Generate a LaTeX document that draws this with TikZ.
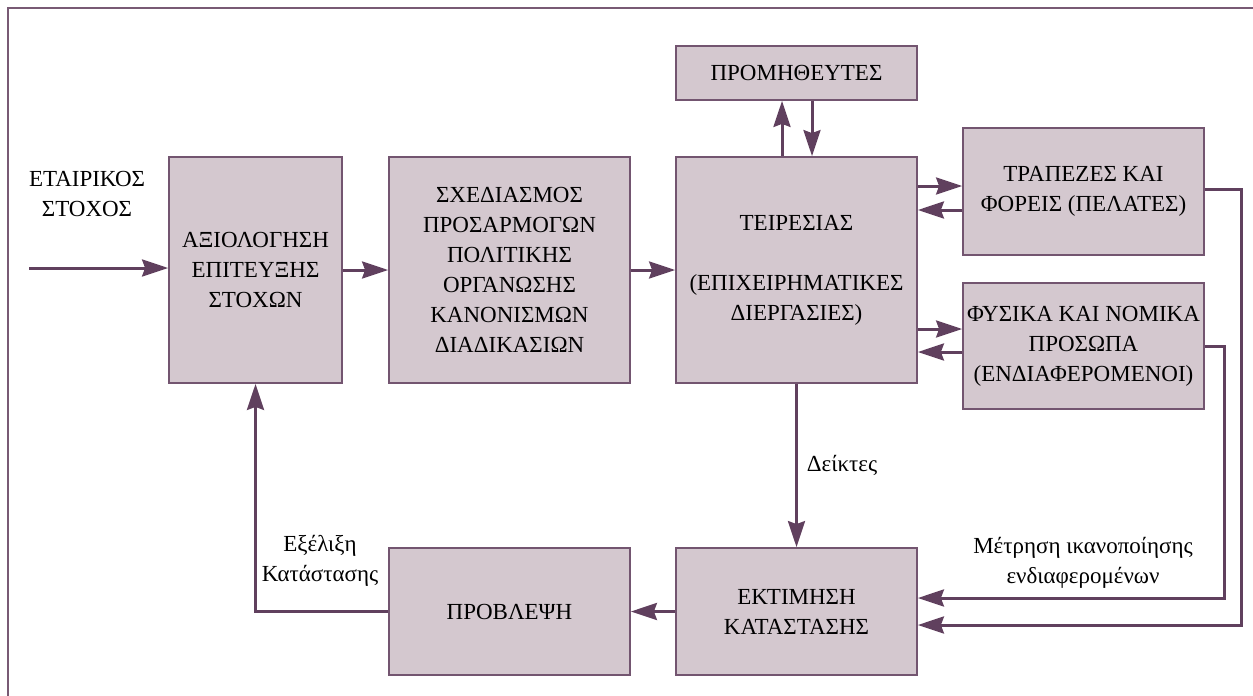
\documentclass[tikz,border=0pt]{standalone}
\usepackage{fontspec}
\setmainfont{Liberation Serif}
\usetikzlibrary{arrows.meta,calc}
\definecolor{boxfill}{RGB}{212,200,207}
\definecolor{boxline}{RGB}{115,85,112}
\definecolor{arrcol}{RGB}{96,64,94}
\definecolor{framecol}{RGB}{120,90,116}
\tikzset{blok/.style={draw=boxline, fill=boxfill, line width=0.9pt, align=center, inner sep=0pt, minimum width=#1},
%default width is that of the wide boxes
blok/.default={120.5pt},
arr/.style={draw=arrcol, line width=1.5pt, -{Stealth[length=13pt,width=8.5pt,inset=1.5pt]}},
lbl/.style={align=center}}

\begin{document}
\begin{tikzpicture}[x=0.5pt,y=-0.5pt,font=\fontsize{11.5}{15}\selectfont]
\useasboundingbox (0,0) rectangle (1253,696);
\draw[framecol,line width=1pt] (1253,8) -- (8,8) -- (8,696);

\node[blok=86.5pt,minimum height=113pt] (aks) at (255.5,270) {ΑΞΙΟΛΟΓΗΣΗ\\ΕΠΙΤΕΥΞΗΣ\\ΣΤΟΧΩΝ};
\node[blok,minimum height=113pt] (sxed) at (509.5,270) {ΣΧΕΔΙΑΣΜΟΣ\\ΠΡΟΣΑΡΜΟΓΩΝ\\ΠΟΛΙΤΙΚΗΣ\\ΟΡΓΑΝΩΣΗΣ\\ΚΑΝΟΝΙΣΜΩΝ\\ΔΙΑΔΙΚΑΣΙΩΝ};
\node[blok,minimum height=113pt] (teir) at (796.5,270) {ΤΕΙΡΕΣΙΑΣ\\[15pt](ΕΠΙΧΕΙΡΗΜΑΤΙΚΕΣ\\ΔΙΕΡΓΑΣΙΕΣ)};
\node[blok,minimum height=27pt] (prom) at (796.5,73) {ΠΡΟΜΗΘΕΥΤΕΣ};
\node[blok,minimum height=63.5pt] (trap) at (1083.5,191.5) {ΤΡΑΠΕΖΕΣ ΚΑΙ\\ΦΟΡΕΙΣ (ΠΕΛΑΤΕΣ)};
\node[blok,minimum height=63pt] (fys) at (1083.5,346) {ΦΥΣΙΚΑ ΚΑΙ ΝΟΜΙΚΑ\\ΠΡΟΣΩΠΑ\\(ΕΝΔΙΑΦΕΡΟΜΕΝΟΙ)};
\node[blok,minimum height=63.5pt] (ektim) at (796.5,611.5) {ΕΚΤΙΜΗΣΗ\\ΚΑΤΑΣΤΑΣΗΣ};
\node[blok,minimum height=63.5pt] (provl) at (509.5,611.5) {ΠΡΟΒΛΕΨΗ};

\node[lbl] (stoxos) at (87,194) {ΕΤΑΙΡΙΚΟΣ\\ΣΤΟΧΟΣ};
\node (deiktes) at (842,465) {Δείκτες};
\node[lbl] (metrisi) at (1083,563) {Μέτρηση ικανοποίησης\\ενδιαφερομένων};
\node[lbl] (exelixi) at (320,561) {Εξέλιξη\\Κατάστασης};

\coordinate (eisodos) at (29,268);
\coordinate (gyrosA) at (1241,0);
\coordinate (gyrosB) at (1224,0);

\draw[arr] (eisodos) -- (aks.west |- eisodos);
\draw[arr] (aks) -- (sxed);
\draw[arr] (sxed) -- (teir);
\draw[arr] ([xshift=-7.25pt]teir.north) -- ([xshift=-7.25pt]prom.south);
\draw[arr] ([xshift=7.75pt]prom.south) -- ([xshift=7.75pt]teir.north);
\draw[arr] ([yshift=2.75pt]teir.east |- trap.west) -- ([yshift=2.75pt]trap.west);
\draw[arr] ([yshift=-9.25pt]trap.west) -- ([yshift=-9.25pt]teir.east |- trap.west);
\draw[arr] ([yshift=8.5pt]teir.east |- fys.west) -- ([yshift=8.5pt]fys.west);
\draw[arr] ([yshift=-3pt]fys.west) -- ([yshift=-3pt]teir.east |- fys.west);
\draw[arr] (teir) -- (ektim);
\draw[arr] (ektim) -- (provl);
\draw[arr] (provl.west) -| (aks.south);
\draw[arr] ([yshift=1.25pt]trap.east) -| ([yshift=-6.75pt]gyrosA |- ektim.east) -- ([yshift=-6.75pt]ektim.east);
\draw[arr] (fys.east) -| ([yshift=6.75pt]gyrosB |- ektim.east) -- ([yshift=6.75pt]ektim.east);
\end{tikzpicture}
\end{document}
